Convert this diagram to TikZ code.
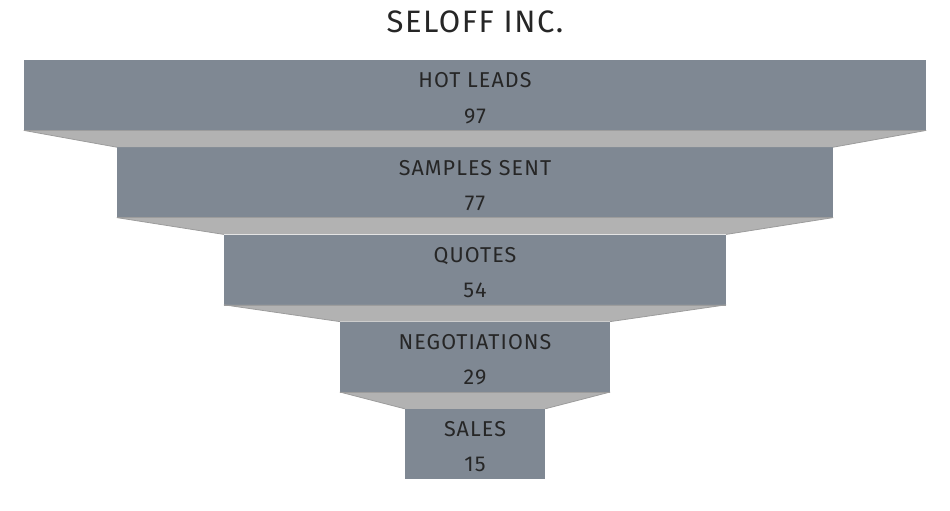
\documentclass[tikz,border=0pt]{standalone}
\usepackage{fontspec}
\setmainfont{Fira Sans}[LetterSpace=5]
\definecolor{boxc}{HTML}{7F8893}
\definecolor{trapc}{HTML}{B2B2B2}
\definecolor{edgec}{HTML}{9C9C9C}
\definecolor{txt}{HTML}{262626}
\begin{document}
\begin{tikzpicture}[x=1pt,y=-1pt,
  stage/.style={fill=boxc, draw=none, inner sep=0pt, minimum height=70pt, anchor=north},
  lbl/.style={text=txt, font=\fontsize{21.5}{24}\selectfont, anchor=base, inner sep=0pt},
  ttl/.style={text=txt, font=\fontsize{31}{34}\selectfont, anchor=base, inner sep=0pt},
  trap/.style={fill=trapc},
  trapedge/.style={draw=edgec, line width=0.8pt}]
\useasboundingbox (0,0) rectangle (950,511);
\node[ttl] (title) at (475,33) {SELOFF INC.};
% stages
\node[stage, minimum width=902pt] (s1) at (475,60) {};
\node[stage, minimum width=716pt] (s2) at (475,147.2) {};
\node[stage, minimum width=502pt] (s3) at (475,234.4) {};
\node[stage, minimum width=270pt] (s4) at (475,321.6) {};
\node[stage, minimum width=140pt] (s5) at (475,408.8) {};
% connectors (trapezoids)
\foreach \a/\b in {s1/s2, s2/s3, s3/s4, s4/s5} {
  \fill[trap] (\a.south west) -- (\a.south east) -- (\b.north east) -- (\b.north west) -- cycle;
  \draw[trapedge] (\a.south west) -- (\b.north west);
  \draw[trapedge] (\a.south east) -- (\b.north east);
  \draw[draw=edgec, line width=0.6pt] (\a.south west) -- (\a.south east);
}
% labels
\node[lbl] (l1) at ([yshift=-28pt]s1.north) {HOT LEADS};
\node[lbl] (n1) at ([yshift=-63pt]s1.north) {97};
\node[lbl] (l2) at ([yshift=-28pt]s2.north) {SAMPLES SENT};
\node[lbl] (n2) at ([yshift=-63pt]s2.north) {77};
\node[lbl] (l3) at ([yshift=-28pt]s3.north) {QUOTES};
\node[lbl] (n3) at ([yshift=-63pt]s3.north) {54};
\node[lbl] (l4) at ([yshift=-28pt]s4.north) {NEGOTIATIONS};
\node[lbl] (n4) at ([yshift=-63pt]s4.north) {29};
\node[lbl] (l5) at ([yshift=-28pt]s5.north) {SALES};
\node[lbl] (n5) at ([yshift=-63pt]s5.north) {15};
\end{tikzpicture}
\end{document}
